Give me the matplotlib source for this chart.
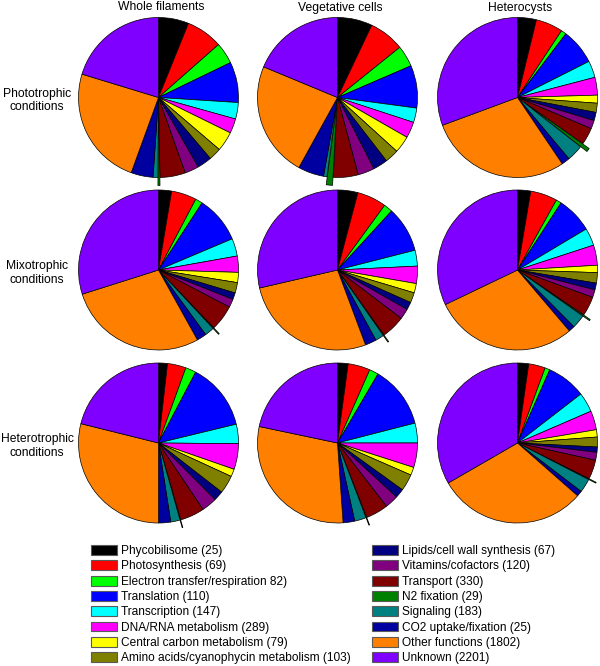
import numpy as np
import matplotlib
matplotlib.use("Agg")
import matplotlib.pyplot as plt
from matplotlib.patches import Patch

plt.rcParams['font.family'] = ['Liberation Sans', 'DejaVu Sans']

categories = ['Phycobilisome (25)', 'Photosynthesis (69)', 'Electron transfer/respiration 82)',
              'Translation (110)', 'Transcription (147)', 'DNA/RNA metabolism (289)',
              'Central carbon metabolism (79)', 'Amino acids/cyanophycin metabolism (103)',
              'Lipids/cell wall synthesis (67)', 'Vitamins/cofactors (120)', 'Transport (330)',
              'N2 fixation (29)', 'Signaling (183)', 'CO2 uptake/fixation (25)',
              'Other functions (1802)', 'Unknown (2201)']
colors = ['#000000', '#FF0000', '#00FF00', '#0000FF', '#00FFFF', '#FF00FF', '#FFFF00', '#808000',
          '#000080', '#800080', '#800000', '#008000', '#008080', '#0000A0', '#FF8000', '#8000FF']

col_titles = ['Whole filaments', 'Vegetative cells', 'Heterocysts']
row_titles = ['Phototrophic\nconditions', 'Mixotrophic\nconditions', 'Heterotrophic\nconditions']

# slice sizes (degrees of arc)
whole_photo = [22, 26.6, 15.5, 29.5, 12, 10.6, 14.3, 9.1, 10.7, 10.2, 18.4, 1.5, 3.5, 16, 87, 73]
veg_photo = [25.4, 25.8, 15.5, 31, 10.5, 11.7, 12.4, 10.1, 10.7, 12, 18, 4.6, 2.5, 18.8, 83.7, 67.5]
het_photo = [13.7, 19.7, 3.8, 26, 12.2, 12.9, 5.8, 6.7, 6, 6.1, 12.4, 2.7, 12, 6, 103.7, 110.3]
whole_mixo = [9.5, 18.3, 5.2, 34.1, 12.8, 11.8, 7.4, 7.6, 4.9, 6, 18.7, 0.7, 6.9, 7, 101.5, 107.6]
veg_mixo = [14.8, 21.3, 6.4, 33.2, 11.5, 12.6, 6.8, 7.4, 5.6, 7.6, 17.2, 0.7, 6.2, 8.2, 97.5, 103]
het_mixo = [9.6, 19.5, 3.9, 26.2, 12.7, 14.7, 5.3, 7.6, 4.9, 5.6, 14.2, 1, 10, 4.4, 104.8, 115.6]
whole_hetero = [6.5, 13.5, 7.7, 48.7, 14.1, 18.7, 5.5, 13.2, 7.1, 11.2, 17.7, 0.5, 6.8, 8.8, 104, 76]
veg_hetero = [7.7, 16.1, 6.6, 45.2, 14.4, 17.8, 5.8, 12.2, 6.7, 9.8, 16.3, 0.5, 8.5, 8.4, 105.9, 78.1]
het_hetero = [8.1, 12.1, 3.6, 28.5, 14.3, 13.8, 5.3, 7.2, 3.8, 5.8, 14, 0.7, 10.1, 4, 108.7, 120]

grid = [[whole_photo, veg_photo, het_photo],
        [whole_mixo, veg_mixo, het_mixo],
        [whole_hetero, veg_hetero, het_hetero]]

W, H = 600, 666
fig = plt.figure(figsize=(W / 100, H / 100), dpi=100)

cx = [158.5, 337.5, 517.5]
cy = [97.5, 270, 443]
r = 80
lim = 1.2
s = 2 * r * lim

explode = [0] * len(categories)
explode[11] = 0.1

for i in range(3):
    for j in range(3):
        ax = fig.add_axes([(cx[j] - s / 2) / W, (H - cy[i] - s / 2) / H, s / W, s / H])
        ax.pie(grid[i][j], colors=colors, startangle=90, counterclock=False, explode=explode,
               wedgeprops=dict(edgecolor='black', linewidth=0.5))
        ax.set_xlim(-lim, lim)
        ax.set_ylim(-lim, lim)
        ax.set_aspect('equal')
        ax.axis('off')

for j, t in enumerate(col_titles):
    fig.text((cx[j] + 3) / W, 1 - 7.5 / H, t, ha='center', va='center', fontsize=8.7)
for i, t in enumerate(row_titles):
    fig.text(37 / W, 1 - (cy[i] + 3) / H, t, ha='center', va='center', fontsize=8.7,
             linespacing=1.15)

handles = [Patch(facecolor=c, edgecolor='0.35', linewidth=0.8) for c in colors]
leg_kw = dict(frameon=False, fontsize=8.6, borderpad=0, handlelength=2.2, handleheight=0.9,
              handletextpad=0.3, labelspacing=0.27, borderaxespad=0)
fig.legend(handles[:8], categories[:8], loc='upper left',
           bbox_to_anchor=(91 / W, 1 - 545 / H), **leg_kw)
fig.legend(handles[8:], categories[8:], loc='upper left',
           bbox_to_anchor=(372 / W, 1 - 545 / H), **leg_kw)

fig.savefig('out.png', dpi=100)
